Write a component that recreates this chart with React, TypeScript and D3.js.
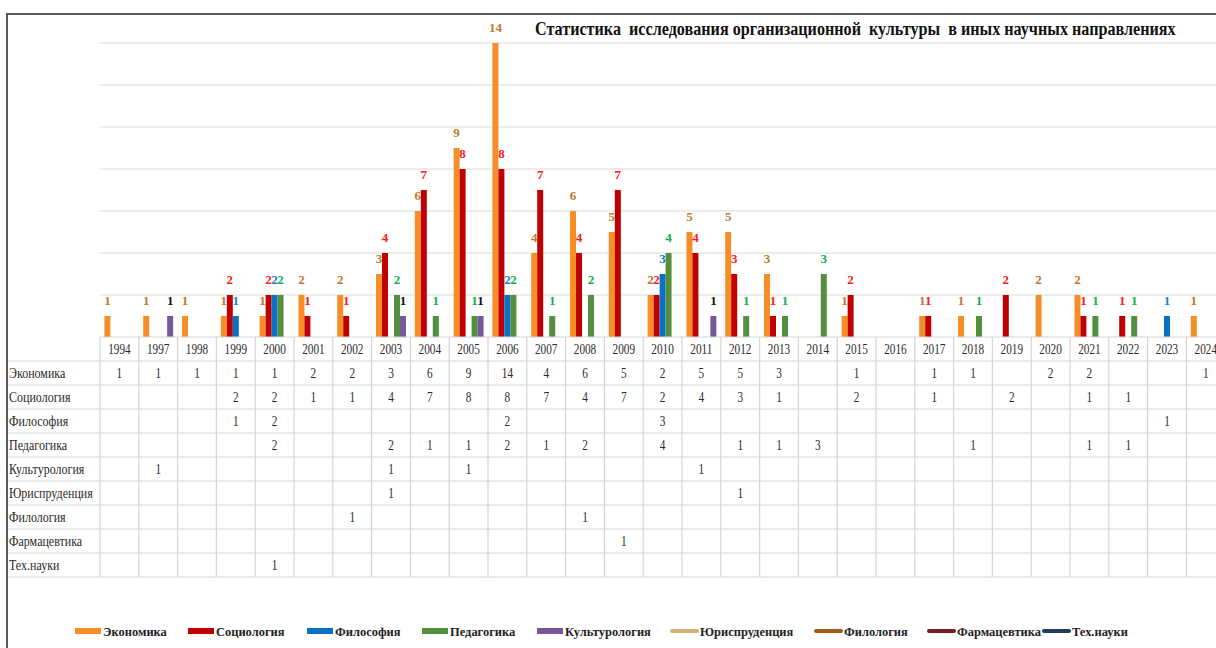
import { useEffect, useRef } from "react";
import * as d3 from "d3";

type Val = number | null;

const YEARS: string[] = [
  "1994", "1997", "1998", "1999", "2000", "2001", "2002", "2003", "2004", "2005",
  "2006", "2007", "2008", "2009", "2010", "2011", "2012", "2013", "2014", "2015",
  "2016", "2017", "2018", "2019", "2020", "2021", "2022", "2023", "2024",
];

// values per year, null = empty cell
const ECONOMICS: Val[] = [1, 1, 1, 1, 1, 2, 2, 3, 6, 9, 14, 4, 6, 5, 2, 5, 5, 3, null, 1, null, 1, 1, null, 2, 2, null, null, 1];
const SOCIOLOGY: Val[] = [null, null, null, 2, 2, 1, 1, 4, 7, 8, 8, 7, 4, 7, 2, 4, 3, 1, null, 2, null, 1, null, 2, null, 1, 1, null, null];
const PHILOSOPHY: Val[] = [null, null, null, 1, 2, null, null, null, null, null, 2, null, null, null, 3, null, null, null, null, null, null, null, null, null, null, null, null, 1, null];
const PEDAGOGY: Val[] = [null, null, null, null, 2, null, null, 2, 1, 1, 2, 1, 2, null, 4, null, 1, 1, 3, null, null, null, 1, null, null, 1, 1, null, null];
const CULTUROLOGY: Val[] = [null, 1, null, null, null, null, null, 1, null, 1, null, null, null, null, null, 1, null, null, null, null, null, null, null, null, null, null, null, null, null];
const LAW: Val[] = [null, null, null, null, null, null, null, 1, null, null, null, null, null, null, null, null, 1, null, null, null, null, null, null, null, null, null, null, null, null];
const PHILOLOGY: Val[] = [null, null, null, null, null, null, 1, null, null, null, null, null, 1, null, null, null, null, null, null, null, null, null, null, null, null, null, null, null, null];
const PHARMACY: Val[] = [null, null, null, null, null, null, null, null, null, null, null, null, null, 1, null, null, null, null, null, null, null, null, null, null, null, null, null, null, null];
const TECH: Val[] = [null, null, null, null, 1, null, null, null, null, null, null, null, null, null, null, null, null, null, null, null, null, null, null, null, null, null, null, null, null];

const SERIES_NAMES: string[] = [
  "Экономика", "Социология", "Философия", "Педагогика", "Культурология",
  "Юриспруденция", "Филология", "Фармацевтика", "Тех.науки",
];
const SERIES_VALUES: Val[][] = [ECONOMICS, SOCIOLOGY, PHILOSOPHY, PEDAGOGY, CULTUROLOGY, LAW, PHILOLOGY, PHARMACY, TECH];
const BAR_SERIES = SERIES_NAMES.slice(0, 5); // the rest are plotted as lines

const TITLE = "Статистика  исследования организационной  культуры  в иных научных направлениях";

const COLORS: Record<string, string> = {
  "Экономика": "#f78d26",
  "Социология": "#c00000",
  "Философия": "#0a72c4",
  "Педагогика": "#52903f",
  "Культурология": "#76589a",
  "Юриспруденция": "#d6b174",
  "Филология": "#a65a14",
  "Фармацевтика": "#7c1c26",
  "Тех.науки": "#1d3f5e",
};
const LABEL_COLORS: Record<string, string> = {
  "Экономика": "#c0782c",
  "Социология": "#ff1a1a",
  "Философия": "#1a7fd6",
  "Педагогика": "#12b050",
  "Культурология": "#111111",
};
const LEGEND_X = [75, 188, 307, 422, 537, 670, 814, 927, 1042];

const SERIF = "'Liberation Serif', 'Times New Roman', serif";

export default function App() {
  const svgRef = useRef<SVGSVGElement>(null);

  useEffect(() => {
    if (!svgRef.current) return;
    const W = 1216;
    const H = 648;
    const left = 100;
    const step = 38.8;
    const base = 337;
    const rowH = 24;
    const tableBottom = base + rowH * (SERIES_NAMES.length + 1);

    const svg = d3.select(svgRef.current);
    svg.selectAll("*").remove();
    svg.attr("width", W).attr("height", H).attr("viewBox", `0 0 ${W} ${H}`);

    svg.append("rect").attr("width", W).attr("height", H).attr("fill", "#fff");

    const x0 = d3
      .scaleBand<string>()
      .domain(YEARS)
      .range([left, left + step * YEARS.length])
      .padding(0);
    const x1 = d3
      .scaleBand<string>()
      .domain(BAR_SERIES)
      .range([0, x0.bandwidth()])
      .paddingInner(0)
      .paddingOuter(0.74);
    const y = d3.scaleLinear().domain([0, 14]).range([base, 43]);
    const rows = d3
      .scaleBand<string>()
      .domain(["", ...SERIES_NAMES])
      .range([base, tableBottom]);

    // gridlines
    svg
      .append("g")
      .selectAll("line")
      .data(y.ticks(7).filter((t) => t > 0))
      .join("line")
      .attr("x1", left)
      .attr("x2", W)
      .attr("y1", (d) => y(d))
      .attr("y2", (d) => y(d))
      .attr("stroke", "#dcdcdc")
      .attr("stroke-width", 1.2);

    // title (double spaces kept)
    svg
      .append("text")
      .attr("transform", "translate(535,35) scale(0.85,1)")
      .attr("font-family", SERIF)
      .attr("font-weight", 700)
      .attr("font-size", 19)
      .attr("fill", "#111")
      .style("white-space", "pre")
      .text(TITLE);

    // bars + labels, series by series
    const plot = svg.append("g");
    BAR_SERIES.forEach((name) => {
      const vals = SERIES_VALUES[SERIES_NAMES.indexOf(name)];
      const pts = YEARS.map((yr, i) => ({ yr, v: vals[i] })).filter((d) => d.v != null) as { yr: string; v: number }[];
      const g = plot.append("g");
      g.selectAll("rect")
        .data(pts)
        .join("rect")
        .attr("x", (d) => x0(d.yr)! + x1(name)!)
        .attr("width", x1.bandwidth())
        .attr("y", (d) => y(d.v))
        .attr("height", (d) => base - y(d.v))
        .attr("fill", COLORS[name]);
      g.selectAll("text")
        .data(pts)
        .join("text")
        .attr("x", (d) => x0(d.yr)! + x1(name)! + x1.bandwidth() / 2)
        .attr("y", (d) => y(d.v) - 11)
        .attr("text-anchor", "middle")
        .attr("font-family", SERIF)
        .attr("font-weight", 700)
        .attr("font-size", 13)
        .attr("fill", LABEL_COLORS[name])
        .text((d) => d.v);
    });

    // line series (isolated points leave no visible segment)
    SERIES_NAMES.slice(5).forEach((name) => {
      const vals = SERIES_VALUES[SERIES_NAMES.indexOf(name)];
      const line = d3
        .line<Val>()
        .defined((d) => d != null)
        .x((_, i) => x0(YEARS[i])! + x0.bandwidth() / 2)
        .y((d) => y(d as number));
      plot
        .append("path")
        .attr("d", line(vals))
        .attr("fill", "none")
        .attr("stroke", COLORS[name])
        .attr("stroke-width", 2.5);
    });

    // data table
    const table = svg.append("g");
    const lineColor = "#d6d6d6";
    table
      .append("line")
      .attr("x1", left)
      .attr("x2", W)
      .attr("y1", base)
      .attr("y2", base)
      .attr("stroke", lineColor)
      .attr("stroke-width", 1.2);
    table
      .selectAll(".hline")
      .data(SERIES_NAMES)
      .join("line")
      .attr("class", "hline")
      .attr("x1", 7)
      .attr("x2", W)
      .attr("y1", (d) => rows(d)!)
      .attr("y2", (d) => rows(d)!)
      .attr("stroke", lineColor)
      .attr("stroke-width", 1.2);
    table
      .append("line")
      .attr("x1", 7)
      .attr("x2", W)
      .attr("y1", tableBottom)
      .attr("y2", tableBottom)
      .attr("stroke", lineColor)
      .attr("stroke-width", 1.2);
    table
      .selectAll(".vline")
      .data(YEARS)
      .join("line")
      .attr("class", "vline")
      .attr("x1", (d) => x0(d)!)
      .attr("x2", (d) => x0(d)!)
      .attr("y1", base)
      .attr("y2", tableBottom)
      .attr("stroke", lineColor)
      .attr("stroke-width", 1.2);

    const cellText = (sel: d3.Selection<any, any, any, any>) =>
      sel
        .attr("font-family", SERIF)
        .attr("font-size", 15)
        .attr("fill", "#2a2a2a")
        .attr("x", 0)
        .attr("y", 0);

    // year header
    table
      .selectAll(".year")
      .data(YEARS)
      .join("text")
      .attr("class", "year")
      .call(cellText)
      .attr("text-anchor", "middle")
      .attr("transform", (d) => `translate(${x0(d)! + x0.bandwidth() / 2},${base + rowH / 2 + 5}) scale(0.75,1)`)
      .text((d) => d);

    // row labels
    table
      .selectAll(".rowlabel")
      .data(SERIES_NAMES)
      .join("text")
      .attr("class", "rowlabel")
      .call(cellText)
      .attr("transform", (d) => `translate(9,${rows(d)! + rowH / 2 + 5}) scale(0.8,1)`)
      .text((d) => d);

    // cell values
    SERIES_NAMES.forEach((name, si) => {
      const vals = SERIES_VALUES[si];
      const cells = YEARS.map((yr, i) => ({ yr, v: vals[i] })).filter((d) => d.v != null);
      table
        .append("g")
        .selectAll("text")
        .data(cells)
        .join("text")
        .call(cellText)
        .attr("text-anchor", "middle")
        .attr("transform", (d) => `translate(${x0(d.yr)! + x0.bandwidth() / 2},${rows(name)! + rowH / 2 + 5}) scale(0.75,1)`)
        .text((d) => d.v as number);
    });

    // legend
    const legend = svg
      .append("g")
      .selectAll("g")
      .data(SERIES_NAMES)
      .join("g")
      .attr("transform", (_, i) => `translate(${LEGEND_X[i]},631)`);
    legend
      .filter((d) => BAR_SERIES.includes(d))
      .append("rect")
      .attr("x", 0)
      .attr("y", -3)
      .attr("width", 26)
      .attr("height", 6)
      .attr("fill", (d) => COLORS[d]);
    legend
      .filter((d) => !BAR_SERIES.includes(d))
      .append("line")
      .attr("x1", 2)
      .attr("x2", 27)
      .attr("y1", 0)
      .attr("y2", 0)
      .attr("stroke", (d) => COLORS[d])
      .attr("stroke-width", 4)
      .attr("stroke-linecap", "round");
    legend
      .append("text")
      .attr("transform", (d) => `translate(${BAR_SERIES.includes(d) ? 28 : 30},5) scale(0.96,1)`)
      .attr("font-family", SERIF)
      .attr("font-weight", 700)
      .attr("font-size", 13)
      .attr("fill", "#222")
      .text((d) => d);

    // outer frame (top and left edges visible)
    svg
      .append("path")
      .attr("d", `M7,${H} V14 H${W}`)
      .attr("fill", "none")
      .attr("stroke", "#5a5a5a")
      .attr("stroke-width", 2);
  }, []);

  return (
    <div style={{ position: "absolute", left: 0, top: 0 }}>
      <svg ref={svgRef} style={{ display: "block" }} />
    </div>
  );
}
